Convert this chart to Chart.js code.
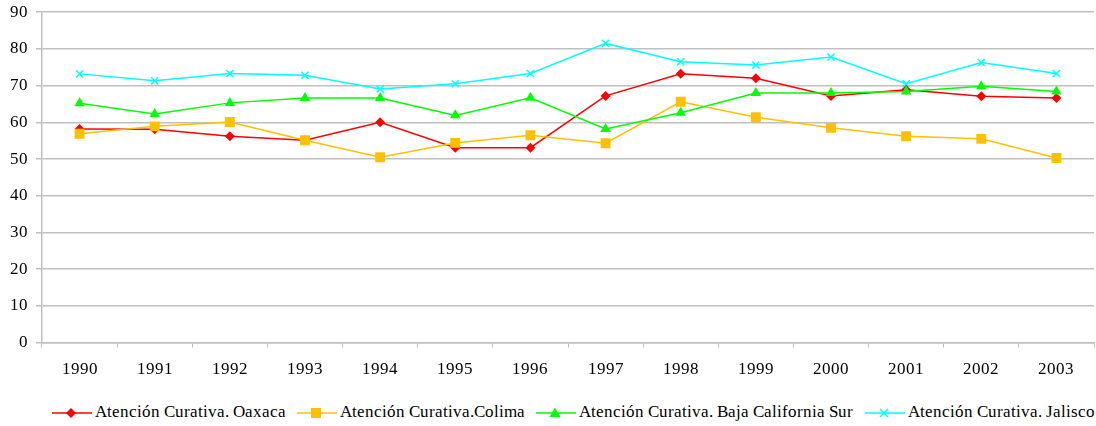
<!DOCTYPE html>
<html>
<head>
<meta charset="utf-8">
<script src="https://cdn.jsdelivr.net/npm/chart.js@4/dist/chart.umd.min.js"></script>
<style>
  @font-face { font-family: 'RefSerif'; src: local('Liberation Serif'), local('LiberationSerif'), local('Times New Roman'); }
  html, body { margin: 0; padding: 0; background: #fff; overflow: hidden; }
  #wrap { position: absolute; left: 0; top: -6px; width: 1101px; height: 398px; }
  #legend { position: absolute; left: 52px; top: 401px; white-space: nowrap; font-family: 'RefSerif', 'Liberation Serif', serif; font-size: 17px; color: #000; }
  #legend span.item { display: inline-block; vertical-align: middle; }
  #legend svg { vertical-align: middle; margin-right: 3px; }
</style>
</head>
<body>
<div id="wrap"><canvas id="chart" width="1101" height="398"></canvas></div>
<div id="legend"></div>
<script>
const years = ['1990', '1991', '1992', '1993', '1994', '1995', '1996', '1997', '1998', '1999', '2000', '2001', '2002', '2003'];
const seriesNames = ['Atención Curativa. Oaxaca', 'Atención Curativa.Colima', 'Atención Curativa. Baja California Sur', 'Atención Curativa. Jalisco'];
const oaxaca = [58.2, 58.1, 56.2, 55.1, 60.0, 53.1, 53.1, 67.2, 73.2, 72.0, 67.2, 68.9, 67.1, 66.6];
const colima = [56.9, 58.9, 60.1, 55.1, 50.5, 54.4, 56.5, 54.3, 65.6, 61.4, 58.5, 56.2, 55.5, 50.3];
const bajaCalifornia = [65.2, 62.3, 65.3, 66.6, 66.6, 61.9, 66.7, 58.2, 62.6, 68.0, 68.0, 68.4, 69.8, 68.4];
const jalisco = [73.2, 71.3, 73.3, 72.8, 69.1, 70.5, 73.3, 81.5, 76.5, 75.6, 77.8, 70.5, 76.3, 73.3];
const yTicks = [0, 10, 20, 30, 40, 50, 60, 70, 80, 90];

const colors = ['#ff0000', '#ffc000', '#00ff00', '#00ffff'];
const styles = ['rectRot', 'rect', 'triangle', 'crossRot'];
const radii = [5, 7, 6, 5];
const legendWidths = [245, 239, 329, 300];
const allData = [oaxaca, colima, bajaCalifornia, jalisco];
const serif = "RefSerif, 'Liberation Serif', serif";

const datasets = allData.map((d, i) => ({
    label: seriesNames[i],
    data: d,
    borderColor: colors[i],
    backgroundColor: colors[i],
    borderWidth: 1.5,
    pointStyle: styles[i],
    pointRadius: radii[i],
    pointBorderWidth: i === 3 ? 1.5 : 0,
    pointBorderColor: colors[i],
    tension: 0,
    fill: false,
    order: 4 - i
}));

function draw() {
    new Chart(document.getElementById('chart').getContext('2d'), {
        type: 'line',
        data: { labels: years, datasets: datasets },
        options: {
            responsive: false,
            animation: false,
            layout: { padding: { left: 0, top: 0, right: 0, bottom: 0 } },
            plugins: { legend: { display: false }, tooltip: { enabled: false } },
            scales: {
                x: {
                    offset: true,
                    grid: { offset: true, drawOnChartArea: false, drawTicks: true, tickLength: 5, color: '#c0c0c0' },
                    border: { color: '#c0c0c0', width: 1.5 },
                    ticks: { color: '#000', font: { family: serif, size: 17 }, padding: 12, maxRotation: 0, autoSkip: false }
                },
                y: {
                    min: 0,
                    max: 90,
                    afterBuildTicks: axis => { axis.ticks = yTicks.map(v => ({ value: v })); },
                    afterFit: axis => { axis.width = 42; },
                    grid: { color: '#c0c0c0', lineWidth: 1.5, tickLength: 6 },
                    border: { color: '#c0c0c0', width: 1.5 },
                    ticks: { color: '#000', font: { family: serif, size: 17 }, padding: 8 }
                }
            }
        }
    });
}

// legend: line + marker glyph, then the series name
function glyph(i) {
    const c = colors[i];
    let mark = '';
    if (i === 0) mark = `<polygon points="19,4 24,9 19,14 14,9" fill="${c}"/>`;
    if (i === 1) mark = `<rect x="14" y="4" width="10" height="10" fill="${c}"/>`;
    if (i === 2) mark = `<polygon points="19,3.5 24.5,13 13.5,13" fill="${c}"/>`;
    if (i === 3) mark = `<path d="M15,5 L23,13 M23,5 L15,13" stroke="${c}" stroke-width="1.5"/>`;
    return `<svg width="40" height="18"><line x1="0" y1="9" x2="40" y2="9" stroke="${c}" stroke-width="1.5"/>${mark}</svg>`;
}
document.getElementById('legend').innerHTML = seriesNames
    .map((n, i) => `<span class="item" style="width:${legendWidths[i]}px">${glyph(i)}${n}</span>`)
    .join('');

document.fonts.load("17px RefSerif").then(draw, draw);
</script>
</body>
</html>
